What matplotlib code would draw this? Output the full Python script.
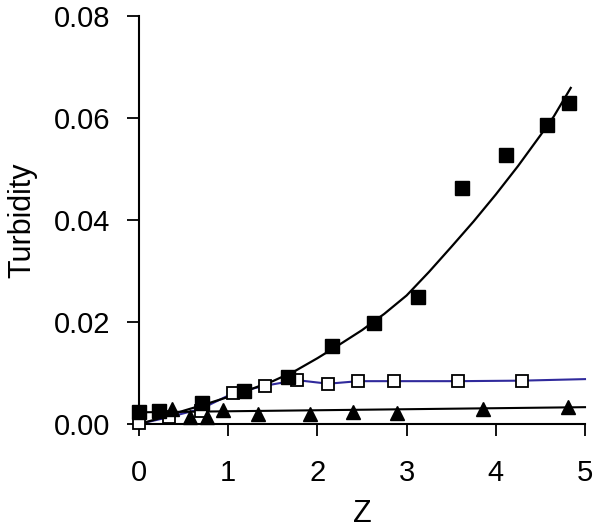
import numpy as np
import matplotlib
matplotlib.use('Agg')
import matplotlib.pyplot as plt

plt.rcParams['font.family'] = ['Liberation Sans', 'DejaVu Sans']

# filled squares
sq_x = [0, 0.22, 0.71, 1.18, 1.67, 2.16, 2.63, 3.13, 3.62, 4.11, 4.57, 4.82]
sq_y = [0.0024, 0.0025, 0.0041, 0.0065, 0.0092, 0.0153, 0.0198, 0.0249, 0.0462, 0.0527, 0.0586, 0.0629]
# curve through filled squares
sq_fit_x = [0, 0.25, 0.5, 0.75, 1.0, 1.25, 1.5, 1.75, 2.0, 2.25, 2.5, 2.75,
            3.0, 3.25, 3.5, 3.75, 4.0, 4.25, 4.5, 4.65, 4.84]
sq_fit_y = [0, 0.0012, 0.0026, 0.0039, 0.0053, 0.0068, 0.0084, 0.0104, 0.0129, 0.0156, 0.0184, 0.0216,
            0.0252, 0.0298, 0.0347, 0.0397, 0.0450, 0.0506, 0.0566, 0.0603, 0.0659]

# open squares
op_x = [0, 0.34, 0.69, 1.05, 1.41, 1.77, 2.12, 2.46, 2.86, 3.58, 4.29]
op_y = [0.0002, 0.0014, 0.0026, 0.0060, 0.0075, 0.0086, 0.0078, 0.0084, 0.0084, 0.0084, 0.0084]
op_fit_x = [0, 0.35, 0.7, 1.05, 1.41, 1.77, 2.12, 2.46, 2.86, 3.58, 4.29, 5.0]
op_fit_y = [0, 0.0014, 0.0030, 0.0060, 0.0075, 0.0086, 0.0079, 0.0084, 0.0084, 0.0084, 0.0085, 0.0088]

# triangles
tr_x = [0.37, 0.57, 0.76, 0.94, 1.33, 1.92, 2.40, 2.89, 3.86, 4.81]
tr_y = [0.0030, 0.0014, 0.0014, 0.0028, 0.0020, 0.0020, 0.0024, 0.0021, 0.0029, 0.0033]
tr_fit_x = [0.03, 5.0]
tr_fit_y = [0.0023, 0.0033]

fig = plt.figure(figsize=(6.02, 5.31), dpi=100)
ax = fig.add_axes([139/602, 1 - 424/531, 446/602, 408/531])

ax.plot(op_fit_x, op_fit_y, color='#302a9c', lw=1.5, zorder=2, clip_on=False)
ax.plot(tr_fit_x, tr_fit_y, color='black', lw=1.5, zorder=2, clip_on=False)
ax.plot(sq_fit_x, sq_fit_y, color='black', lw=1.6, zorder=2, clip_on=False)

ax.plot(op_x, op_y, 's', ms=8, mfc='white', mec='black', mew=1.3, zorder=3, clip_on=False)
ax.plot(sq_x, sq_y, 's', ms=9.5, color='black', zorder=4, clip_on=False)
ax.plot(tr_x, tr_y, '^', ms=10, color='black', zorder=5, clip_on=False)

ax.set_xlim(0, 5)
ax.set_ylim(0, 0.08)
ax.set_xticks([0, 1, 2, 3, 4, 5])
ax.set_yticks([0, 0.02, 0.04, 0.06, 0.08])
ax.set_yticklabels(['0.00', '0.02', '0.04', '0.06', '0.08'])

for s in ['top', 'right']:
    ax.spines[s].set_visible(False)
for s in ['left', 'bottom']:
    ax.spines[s].set_linewidth(1.5)

ax.tick_params(axis='y', direction='out', length=8.5, width=1.3, labelsize=21, pad=12)
ax.tick_params(axis='x', direction='out', length=8.5, width=1.3, labelsize=21, pad=17)

ax.set_xlabel('Z', fontsize=22)
ax.set_ylabel('Turbidity', fontsize=22)
ax.xaxis.set_label_coords(0.5, -0.185)
ax.yaxis.set_label_coords(-0.228, 0.5)

fig.savefig('out.png', dpi=100)
